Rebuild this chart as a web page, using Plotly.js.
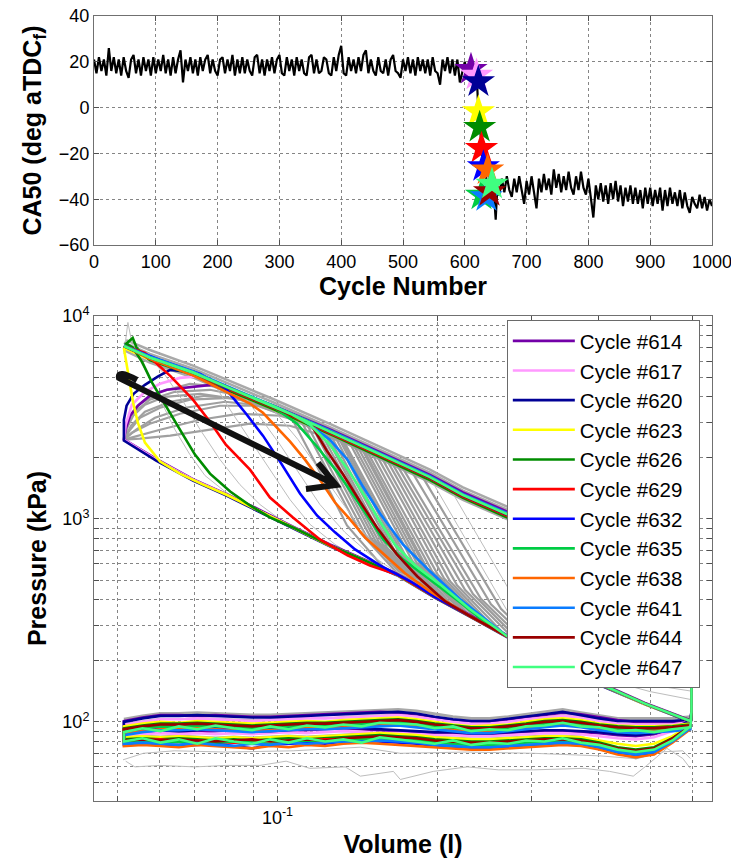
<!DOCTYPE html>
<html>
<head>
<meta charset="utf-8">
<script src="https://cdn.plot.ly/plotly-3.0.1.min.js"></script>
<style>html,body{margin:0;padding:0;background:#fff;}#chart{width:731px;height:867px;}</style>
</head>
<body>
<div id="chart"></div>
<script>
// ================= TOP PANEL DATA (CA50 vs cycle) =================
// cycles 0,4,...,604
const ca50Early = [
21,15,22,16,21,14,26,16,22,15,
21,14,22,16,13,21,23,15,21,14,
22,16,21,14,22,15,21,16,23,15,
21,14,22,15,21,25,11,21,16,22,
15,21,14,22,16,21,23,15,21,16,
14,21,22,15,21,16,23,14,21,15,
22,15,21,16,14,22,23,15,21,14,
21,16,22,15,21,23,15,14,22,16,
21,14,22,16,21,15,14,22,23,15,
21,15,16,22,21,15,14,22,16,23,
27,15,14,22,16,21,15,22,16,23,
25,15,21,16,14,22,16,15,21,14,
21,23,16,15,13,21,16,22,15,21,
14,22,16,21,15,21,14,22,16,15,
10,21,16,22,15,21,14,21,11,16,
20,15];
const earlyFirstCycle = 0, earlyCycleStep = 4;
// transition cycles
const cycleTrans = [608,610,612,614,616,618,620,621,622,623,624,625,626,627,628,629,630,631,632,634,636,638,640,642,644,646,648,650,652];
const ca50Trans  = [15,17,13,16,12,14,10,4,0,-3,-8,-11,-14,-17,-20,-24,-27,-25,-30,-28,-36,-33,-40,-35,-38,-36,-41,-49,-38];
// cycles 656,660,...,1000
const ca50Late = [
-38,-31,-37,-30,-36,-39,-31,-37,-30,-36,
-42,-32,-38,-30,-37,-44,-31,-37,-29,-36,
-31,-38,-27,-35,-29,-37,-30,-36,-28,-35,
-38,-30,-36,-28,-35,-38,-31,-40,-48,-34,
-40,-33,-41,-34,-42,-33,-40,-32,-41,-34,
-43,-35,-41,-34,-42,-35,-42,-36,-44,-35,
-42,-35,-43,-36,-42,-35,-45,-36,-43,-35,
-42,-37,-43,-36,-44,-37,-43,-46,-39,-42,
-44,-38,-44,-39,-45,-40,-43];
const lateFirstCycle = 656, lateCycleStep = 4;

// highlighted cycles (stars)
const cycleLabels = ['Cycle #614','Cycle #617','Cycle #620','Cycle #623','Cycle #626','Cycle #629','Cycle #632','Cycle #635','Cycle #638','Cycle #641','Cycle #644','Cycle #647'];
const cycleColors = ['#7300a8','#ff99ff','#000096','#ffff00','#008c00','#ff0000','#0000ff','#00cc44','#ff6600','#0a7cff','#990000','#40ff80'];
const starCycles = [610,619,622,622,624,627,630,627,637,635,640,644];
const starCA50   = [16.7,14.2,11.3,-1.8,-8.6,-17.8,-25.8,-38.2,-27.2,-38.9,-36.7,-33.4];

const cycleTicks = [0,100,200,300,400,500,600,700,800,900,1000];
const ca50Ticks = [-60,-40,-20,0,20,40];

// ================= BOTTOM PANEL DATA (P-V, volume in l, pressure in kPa) =================
const hp614 = [[0.595,102],[0.489,124],[0.402,156],[0.325,206],[0.269,268],[0.230,335],[0.198,415],[0.1675,538],[0.1446,638],[0.1254,748],[0.1069,915],[0.090,1150],[0.080,1330],[0.0694,1570],[0.0592,1975],[0.0515,2470],
 [0.0519,2784],[0.0529,3226],[0.0547,3614],[0.0576,4048],[0.0620,4330],[0.0673,4430],[0.0750,4580],[0.0850,4150],[0.0981,3620],
 [0.1254,2760],[0.1557,2140],[0.1932,1650],[0.2228,1350],[0.2692,1090],[0.402,690],[0.598,440],[0.598,112]];
const hp617 = [[0.595,101],[0.489,123],[0.402,154],[0.325,204],[0.269,265],[0.230,332],[0.198,411],[0.1675,533],[0.1446,632],[0.1254,741],[0.1069,908],[0.090,1140],[0.080,1320],[0.0694,1560],[0.0592,1960],[0.0515,2459],
 [0.0519,2913],[0.0533,3653],[0.0564,4232],[0.0602,4634],[0.0656,4955],[0.0716,5050],[0.0815,4400],
 [0.0981,3590],[0.1254,2700],[0.1557,2080],[0.1932,1605],[0.2228,1310],[0.2692,1055],[0.402,672],[0.598,432],[0.598,112]];
const hp620 = [[0.595,100],[0.489,122],[0.402,152],[0.325,202],[0.269,262],[0.230,329],[0.198,407],[0.1675,528],[0.1446,626],[0.1254,734],[0.1069,899],[0.090,1128],[0.080,1307],[0.0694,1545],[0.0592,1940],[0.0515,2435],
 [0.0515,3080],[0.0521,3614],[0.0537,4140],[0.0564,4580],[0.0596,5030],[0.0629,5430],[0.0694,5280],
 [0.0815,4390],[0.0981,3580],[0.1254,2700],[0.1557,2085],[0.1932,1610],[0.2228,1315],[0.2692,1060],[0.402,675],[0.598,435],[0.598,112]];
const hp623 = [[0.595,101],[0.489,122],[0.402,153],[0.325,203],[0.269,264],[0.230,330],[0.198,409],[0.1675,530],[0.1446,630],[0.1254,738],[0.1069,904],[0.090,1135],[0.080,1320],
 [0.0725,1477],[0.0656,1673],[0.0602,1917],[0.0564,2377],[0.0547,2979],[0.0536,3737],[0.0529,4688],[0.0519,6150],[0.0515,6962],
 [0.0576,6100],[0.0694,5150],[0.0815,4290],[0.0981,3500],[0.1254,2630],[0.1557,2030],[0.1932,1560],[0.2228,1275],[0.2692,1025],[0.402,655],[0.598,420],[0.598,110]];
const hp626 = [[0.595,101],[0.489,123],[0.402,154],[0.325,204],[0.269,265],[0.230,332],[0.198,411],[0.1675,533],[0.1446,632],[0.1254,741],[0.1069,908],[0.0968,1017],
 [0.0888,1165],[0.0815,1365],[0.0747,1673],[0.0700,2075],[0.0656,2753],[0.0616,3653],[0.0582,4688],[0.0557,5943],[0.0535,7000],[0.0520,7300],[0.0535,7800],[0.0545,6900],
 [0.0576,6060],[0.0694,5120],[0.0815,4260],[0.0981,3480],[0.1254,2620],[0.1557,2020],[0.1932,1555],[0.2228,1270],[0.2692,1020],[0.402,650],[0.598,418],[0.598,110]];
const hp629 = [[0.595,101],[0.489,123],[0.402,154],[0.325,204],[0.269,265],[0.230,332],[0.198,411],[0.1675,533],
 [0.1491,590],[0.1353,662],[0.1201,793],[0.1069,1017],[0.0968,1275],[0.0888,1750],[0.0800,2323],[0.0747,3013],[0.0694,3870],[0.0629,5070],[0.0564,6577],[0.0515,7120],
 [0.0576,6150],[0.0694,5200],[0.0815,4330],[0.0981,3540],[0.1254,2660],[0.1557,2055],[0.1932,1585],[0.2228,1290],[0.2692,1040],[0.402,662],[0.598,426],[0.598,110]];
const hp632 = [[0.595,101],[0.489,123],[0.402,154],[0.325,204],[0.269,265],[0.230,332],[0.198,411],
 [0.1773,493],[0.1557,590],[0.1398,708],[0.1282,859],[0.1186,1040],[0.1102,1335],[0.1011,1917],[0.0939,2573],[0.0873,3300],[0.0797,4427],[0.0716,5190],[0.0602,6080],[0.0515,7120],
 [0.0576,6230],[0.0694,5260],[0.0815,4380],[0.0981,3580],[0.1254,2695],[0.1557,2080],[0.1932,1600],[0.2228,1305],[0.2692,1052],[0.402,669],[0.598,430],[0.598,110]];
const hp635 = [[0.595,101],[0.489,123],[0.402,154],[0.325,204],[0.269,265],[0.2504,296],
 [0.2200,389],[0.1932,504],[0.1719,632],[0.1579,793],[0.1491,995],[0.1385,1319],[0.1293,1712],[0.1186,2272],[0.1088,2946],[0.0981,3575],[0.0815,4375],[0.0694,5250],[0.0576,6220],[0.0515,7120],
 [0.0576,6280],[0.0694,5300],[0.0815,4420],[0.0981,3610],[0.1254,2720],[0.1557,2095],[0.1932,1615],[0.2228,1318],[0.2692,1062],[0.402,676],[0.598,434],[0.598,112]];
const hp638 = [[0.595,101],[0.489,123],[0.402,154],[0.325,204],[0.269,265],[0.2297,332],
 [0.1932,440],[0.1734,540],[0.1591,662],[0.1459,811],[0.1368,995],[0.1282,1205],[0.1201,1560],[0.1126,1960],[0.1056,2403],[0.0939,3337],[0.0888,3700],[0.0815,4150],[0.0694,5100],[0.0576,6150],[0.0515,7120],
 [0.0576,6250],[0.0694,5280],[0.0815,4400],[0.0981,3595],[0.1254,2705],[0.1557,2085],[0.1932,1608],[0.2228,1312],[0.2692,1058],[0.402,672],[0.598,432],[0.598,110]];
const hp641 = [[0.595,101],[0.489,123],[0.402,154],[0.325,204],[0.2692,265],
 [0.2200,402],[0.1932,552],[0.1719,749],[0.1557,1064],[0.1446,1444],[0.1353,1960],[0.1254,2460],[0.1102,3154],[0.0981,3620],[0.0815,4440],[0.0694,5330],[0.0576,6300],[0.0515,7150],
 [0.0576,6320],[0.0694,5330],[0.0815,4440],[0.0981,3630],[0.1254,2730],[0.1557,2105],[0.1932,1625],[0.2228,1325],[0.2692,1068],[0.402,680],[0.598,436],[0.598,112]];
const hp644 = [[0.595,101],[0.489,123],[0.402,154],[0.325,204],[0.269,265],[0.2297,332],
 [0.2062,393],[0.1828,522],[0.1675,669],[0.1537,908],[0.1428,1219],[0.1328,1655],[0.1237,2171],[0.1151,2979],[0.0981,3575],[0.0815,4375],[0.0694,5250],[0.0576,6220],[0.0515,7120],
 [0.0576,6220],[0.0694,5250],[0.0815,4375],[0.0981,3575],[0.1254,2690],[0.1557,2075],[0.1932,1600],[0.2228,1305],[0.2692,1052],[0.402,669],[0.598,430],[0.598,110]];
const hp647 = [[0.595,101],[0.489,123],[0.402,154],[0.325,204],[0.2692,265],
 [0.2297,359],[0.2018,476],[0.1813,590],[0.1660,749],[0.1557,972],[0.1459,1290],[0.1356,1750],[0.1254,2323],[0.1151,2913],[0.1056,3300],[0.0981,3575],[0.0815,4375],[0.0694,5250],[0.0576,6220],[0.0515,7120],
 [0.0576,6250],[0.0694,5280],[0.0815,4400],[0.0981,3600],[0.1254,2705],[0.1557,2085],[0.1932,1608],[0.2228,1312],[0.2692,1058],[0.402,672],[0.598,432],[0.598,112]];

// gas-exchange volume grid (l) and pressures (kPa) on it
const gxV = [0.0515,0.0558,0.0603,0.0653,0.0707,0.0765,0.0828,0.0896,0.0969,0.1049,0.1135,0.1228,0.1329,0.1438,0.1556,0.1684,0.1823,0.1972,0.2134,0.2310,0.2500,0.2705,0.2927,0.3168,0.3428,0.3710,0.4015,0.4345,0.4702,0.5088,0.5508,0.5950];
const exh614 = [101,105,108,108,107,108,107,106,106,107,108,109,110,111,112,111,109,105,102,100,100,102,105,108,111,109,105,102,100,100,100,102];
const exh617 = [97,100,103,103,104,103,102,101,102,103,104,104,105,106,107,108,106,103,100,98,98,100,103,105,107,105,101,98,97,97,97,100];
const exh620 = [100,104,107,107,108,107,106,105,105,106,107,108,109,110,111,112,110,106,103,101,101,103,106,109,112,108,104,101,101,101,101,103];
const exh623 = [95,98,100,99,101,100,99,98,99,100,101,100,102,103,104,105,103,100,97,95,96,97,100,103,104,102,98,96,95,95,96,98];
const exh626 = [93,96,98,98,99,98,97,96,97,98,99,99,100,101,102,103,101,98,96,94,94,96,98,101,102,100,97,95,94,94,95,97];
const exh629 = [91,94,96,96,97,96,95,94,95,96,97,97,98,99,100,101,99,96,94,92,92,94,96,99,100,98,95,93,92,93,94,96];
const exh632 = [88,91,93,93,94,93,92,91,92,93,94,94,95,96,97,98,96,94,92,90,90,92,94,96,98,96,93,91,90,91,92,94];
const exh635 = [90,93,95,94,96,95,94,93,94,95,96,95,97,98,99,100,98,95,93,91,91,93,95,98,99,97,94,92,91,92,93,95];
const exh638 = [87,90,92,92,93,92,91,90,91,92,93,93,94,95,96,97,95,93,91,89,89,91,93,95,97,95,92,90,89,90,91,93];
const exh641 = [86,89,91,91,92,91,90,89,90,91,92,92,93,94,95,96,94,92,90,88,88,90,92,94,96,94,91,89,88,89,90,92];
const exh644 = [92,95,97,97,98,97,96,95,96,97,98,98,99,100,101,102,100,97,95,93,93,95,97,100,101,99,96,94,93,93,94,96];
const exh647 = [89,93,90,95,92,96,93,91,95,92,96,94,97,95,99,98,97,93,95,90,92,91,95,96,99,95,94,90,91,89,92,94];
const int614 = [88,89,90,90,89,90,91,90,89,90,91,92,93,92,91,90,89,88,88,87,87,88,89,90,90,89,88,86,85,87,92,100];
const int617 = [86,87,88,87,88,87,88,87,88,89,88,89,90,89,88,88,87,86,86,85,85,86,87,88,88,87,85,83,82,84,90,98];
const int620 = [90,91,91,90,91,92,91,90,90,91,92,93,94,93,92,91,90,89,89,88,88,89,90,91,91,90,89,87,86,88,93,101];
const int623 = [84,85,84,85,84,83,84,83,84,85,84,85,86,87,88,87,86,84,83,82,82,83,84,85,85,84,81,78,76,78,85,96];
const int626 = [82,83,82,83,82,81,82,81,82,83,82,83,84,85,86,85,84,82,81,80,80,81,82,83,83,82,79,75,73,75,83,95];
const int629 = [80,81,82,80,81,80,79,80,81,80,81,82,82,83,84,83,82,80,79,78,78,79,80,81,81,80,77,73,71,73,82,94];
const int632 = [77,78,77,76,77,78,76,74,77,78,79,78,80,81,80,79,78,76,75,74,74,75,76,77,78,77,74,70,68,70,80,93];
const int635 = [79,80,79,80,78,79,80,79,78,80,81,80,81,82,83,82,81,79,78,77,77,78,79,80,80,79,76,72,70,72,81,94];
const int638 = [76,77,76,75,77,76,75,74,76,75,77,76,78,79,78,77,76,75,74,73,73,74,75,76,77,76,73,69,67,69,79,92];
const int641 = [78,79,78,77,79,77,76,78,77,79,78,79,80,80,81,80,79,77,76,75,75,76,77,78,79,78,75,71,69,71,80,93];
const int644 = [81,82,81,82,81,80,81,82,80,81,82,81,83,84,85,84,83,81,80,79,79,80,81,82,82,81,78,74,72,74,83,95];
const int647 = [80,83,79,82,78,83,80,78,82,79,83,80,82,79,84,82,80,78,81,77,79,78,81,80,83,79,77,73,71,73,81,95];

// other (grey) cycles
const grayLateBurn = [
 [[0.0515,2459],[0.0524,3083],[0.0540,3375],[0.0576,3870],[0.0642,4232],[0.0747,4330],[0.0888,3955],[0.1055,3300],[0.1254,2692]],
 [[0.0515,2459],[0.0529,2753],[0.0552,3154],[0.0602,3530],[0.0685,3870],[0.0815,3955],[0.0968,3612],[0.1151,2980]],
 [[0.0515,2459],[0.0533,2662],[0.0576,2946],[0.0656,3300],[0.0780,3612],[0.0927,3612],[0.1102,3154],[0.1310,2543]],
 [[0.0515,2459],[0.0540,2543],[0.0602,2753],[0.0716,3083],[0.0850,3300],[0.1011,3226],[0.1201,2815],[0.1429,2297]],
 [[0.0515,2459],[0.0552,2487],[0.0629,2573],[0.0747,2753],[0.0888,2946],[0.1055,2880],[0.1254,2515],[0.1491,2147]],
 [[0.0515,2459],[0.0529,3154],[0.0552,3696],[0.0602,4232],[0.0685,4632],[0.0815,4428],[0.0981,3575]],
 [[0.0515,2459],[0.0522,2815],[0.0536,3226],[0.0564,3653],[0.0615,3999],[0.0716,4137],[0.0850,3870],[0.1011,3300],[0.1201,2815]],
 [[0.0515,2459],[0.0531,2880],[0.0564,3375],[0.0629,3780],[0.0731,4045],[0.0869,3870],[0.1033,3375],[0.1228,2753]],
 [[0.0515,2459],[0.0543,2753],[0.0589,3154],[0.0671,3530],[0.0797,3780],[0.0947,3612],[0.1126,3083],[0.1338,2487]]
];
const grayEarlyBurn = [
 [[0.1102,3118],[0.1228,1832],[0.1429,859],[0.1698,522]],
 [[0.1126,3048],[0.1257,1775],[0.1463,833],[0.1742,504]],
 [[0.1151,2980],[0.1285,1731],[0.1498,802],[0.1788,482]],
 [[0.1171,2913],[0.1307,1687],[0.1525,785],[0.1819,471]],
 [[0.1191,2848],[0.1330,1655],[0.1551,766],[0.1851,455]],
 [[0.1212,2800],[0.1353,1612],[0.1579,745],[0.1884,445]],
 [[0.1228,2753],[0.1373,1581],[0.1605,724],[0.1916,435]],
 [[0.1249,2692],[0.1396,1546],[0.1638,710],[0.1950,421]],
 [[0.1271,2662],[0.1422,1511],[0.1661,692],[0.1983,412]],
 [[0.1293,2602],[0.1445,1494],[0.1689,684],[0.2018,402]],
 [[0.1310,2543],[0.1466,1444],[0.1720,662],[0.2062,389]],
 [[0.1321,2515],[0.1485,1428],[0.1750,639],[0.2107,376]],
 [[0.1356,2459],[0.1524,1380],[0.1788,625],[0.2153,363]],
 [[0.1379,2403],[0.1551,1353],[0.1826,606],[0.2200,355]],
 [[0.1404,2350],[0.1578,1319],[0.1859,591],[0.2248,343]],
 [[0.1429,2297],[0.1608,1289],[0.1900,565],[0.2297,332]],
 [[0.1441,2272],[0.1619,1275],[0.1908,571],[0.2297,332]],
 [[0.1460,2246],[0.1647,1247],[0.1950,552],[0.2357,321]],
 [[0.1491,2195],[0.1683,1212],[0.1999,531],[0.2430,307]],
 [[0.1524,2123],[0.1727,1178],[0.2053,510],[0.2504,293]],
 [[0.1557,2075],[0.1765,1139],[0.2107,493],[0.2581,280]],
 [[0.1591,2028],[0.1811,1101],[0.2172,471],[0.2673,268]],
 [[0.1626,1960],[0.1859,1058],[0.2248,448],[0.2791,253]],
 [[0.1661,1917],[0.1912,1029],[0.2327,426],[0.2913,236]],
 [[0.1698,1874],[0.1965,988],[0.2408,404],[0.3041,223]],
 [[0.1055,3262],[0.1171,1939],[0.1350,929],[0.1591,565]],
 [[0.1773,1771],[0.2053,929],[0.2515,380],[0.3176,211]],
 [[0.1851,1692],[0.2142,888],[0.2626,361],[0.3316,198]]
];
const grayThin = [
 [[0.0869,1192],[0.0797,1365],[0.0731,1636],[0.0685,2075],[0.0642,2753],[0.0602,3870],[0.0572,5130],[0.0540,6655]],
 [[0.1102,878],[0.1011,995],[0.0927,1178],[0.0850,1477],[0.0780,1960],[0.0716,2753],[0.0662,3870],[0.0615,5130],[0.0576,6220]],
 [[0.1591,565],[0.1429,632],[0.1282,749],[0.1151,940],[0.1055,1247],[0.0968,1750],[0.0888,2459],[0.0815,3450],[0.0763,4580]],
 [[0.1851,493],[0.1661,552],[0.1491,669],[0.1338,859],[0.1201,1178],[0.1102,1655],[0.1011,2323],[0.0935,3083],[0.0869,3955]],
 [[0.2018,402],[0.1811,493],[0.1626,618],[0.1460,839],[0.1310,1247],[0.1191,1791],[0.1093,2459],[0.0989,3375]],
 [[0.1932,1599],[0.2224,849],[0.2707,347],[0.3388,193]],
 [[0.2107,1412],[0.2424,749],[0.2951,310],[0.3694,172]],
 [[0.0515,6500],[0.0524,9300],[0.0535,7000]],
 [[0.40,168],[0.45,152],[0.50,141],[0.55,134],[0.595,129]],
 [[0.42,170],[0.47,158],[0.52,150],[0.56,146],[0.595,142]],
 [[0.0513,65],[0.056,70],[0.064,72],[0.08,71],[0.107,72],[0.143,75],[0.17,70],[0.227,71],[0.302,70],[0.402,68],[0.465,66],[0.52,71],[0.576,72],[0.595,66]],
 [[0.0519,64],[0.054,60],[0.06,61],[0.07,60],[0.08,61],[0.0927,61],[0.1038,64],[0.115,59],[0.134,60],[0.143,54],[0.165,57],[0.17,52],[0.196,57],[0.227,60],[0.26,58],[0.302,58],[0.376,59],[0.42,57],[0.465,54],[0.493,61],[0.538,74],[0.576,66],[0.595,59]]
];
const grayExpansion = [
 [[0.0515,7400],[0.0576,6500],[0.0694,5500],[0.0815,4600],[0.0981,3760],[0.1254,2830],[0.1557,2190],[0.1932,1690],[0.2228,1380],[0.2692,1110],[0.402,705],[0.595,455]],
 [[0.0520,7600],[0.0576,6800],[0.0694,5700],[0.0815,4780],[0.0981,3900],[0.1254,2940],[0.1557,2270],[0.1932,1750],[0.2228,1430],[0.2692,1150],[0.402,730],[0.595,470]],
 [[0.0515,6800],[0.0576,5900],[0.0694,4980],[0.0815,4150],[0.0981,3400],[0.1254,2560],[0.1557,1970],[0.1932,1520],[0.2228,1240],[0.2692,1000],[0.402,635],[0.595,410]]
];
const grayExhA = [103,107,110,110,111,110,109,108,108,109,110,111,112,113,114,115,113,109,106,104,104,106,109,112,115,111,107,104,104,104,104,106];
const grayExhB = [98,101,104,103,105,104,103,102,103,104,105,104,106,107,108,109,107,104,101,99,99,101,104,106,108,106,102,99,98,98,98,101];
const grayIntA = [85,86,85,86,85,84,85,84,85,86,85,86,87,88,89,88,87,85,84,83,83,84,85,86,86,85,79,74,72,75,85,96];
const grayIntB = [78,79,78,79,77,78,79,78,77,79,80,79,80,81,82,81,80,78,77,76,76,77,78,79,79,78,74,70,66,70,82,92];

const volTicks = [0.05,0.06,0.07,0.08,0.09,0.1,0.2,0.3,0.4,0.5,0.6];
const volTickText = ['','','','','','10<sup>-1</sup>','','','','',''];
const presTicks = [50,60,70,80,90,100,200,300,400,500,600,700,800,900,1000,2000,3000,4000,5000,6000,7000,8000,9000,10000];
const presTickText = presTicks.map(v => v === 100 ? '10<sup>2</sup>' : v === 1000 ? '10<sup>3</sup>' : v === 10000 ? '10<sup>4</sup>' : '');

// ================= BUILD TRACES =================
const FONT = 'Liberation Sans, Arial, Helvetica, sans-serif';
const traces = [];

const cycAll = [], caAll = [];
ca50Early.forEach((v, i) => { cycAll.push(earlyFirstCycle + earlyCycleStep * i); caAll.push(v); });
cycleTrans.forEach((c, i) => { cycAll.push(c); caAll.push(ca50Trans[i]); });
ca50Late.forEach((v, i) => { cycAll.push(lateFirstCycle + lateCycleStep * i); caAll.push(v); });

traces.push({x: cycAll, y: caAll, xaxis: 'x', yaxis: 'y', mode: 'lines',
  line: {color: '#000', width: 2.2}, showlegend: false, hoverinfo: 'skip'});
traces.push({x: starCycles, y: starCA50, xaxis: 'x', yaxis: 'y', mode: 'markers',
  marker: {symbol: 'star', size: 25, color: cycleColors, line: {width: 0}}, showlegend: false, hoverinfo: 'skip'});

function joined(list) {
  const x = [], y = [];
  list.forEach(seg => { seg.forEach(p => { x.push(p[0]); y.push(p[1]); }); x.push(null); y.push(null); });
  return {x, y};
}
function grayTrace(list, color, width) {
  const d = joined(list);
  return {x: d.x, y: d.y, xaxis: 'x2', yaxis: 'y2', mode: 'lines', line: {color, width},
    showlegend: false, hoverinfo: 'skip', connectgaps: false};
}
function grayGx(arr, color, width) {
  return {x: gxV, y: arr, xaxis: 'x2', yaxis: 'y2', mode: 'lines', line: {color, width}, showlegend: false, hoverinfo: 'skip'};
}
traces.push(grayTrace(grayExpansion, '#a9a9a9', 2.5));
traces.push(grayTrace(grayLateBurn, '#a0a0a0', 2.2));
traces.push(grayTrace(grayEarlyBurn, '#9d9d9d', 2.2));
traces.push(grayTrace(grayThin, '#bdbdbd', 1));
traces.push(grayGx(grayExhA, '#a8a8a8', 3));
traces.push(grayGx(grayExhB, '#b0b0b0', 1.5));
traces.push(grayGx(grayIntA, '#b0b0b0', 1.5));
traces.push(grayGx(grayIntB, '#a8a8a8', 2));

const hpList = [hp614, hp617, hp620, hp623, hp626, hp629, hp632, hp635, hp638, hp641, hp644, hp647];
const exhList = [exh614, exh617, exh620, exh623, exh626, exh629, exh632, exh635, exh638, exh641, exh644, exh647];
const intList = [int614, int617, int620, int623, int626, int629, int632, int635, int638, int641, int644, int647];
hpList.forEach((hp, k) => {
  const x = [], y = [];
  hp.forEach(p => { x.push(p[0]); y.push(p[1]); });
  for (let i = gxV.length - 1; i >= 0; i--) { x.push(gxV[i]); y.push(exhList[k][i]); }
  for (let i = 0; i < gxV.length; i++) { x.push(gxV[i]); y.push(intList[k][i]); }
  traces.push({x, y, xaxis: 'x2', yaxis: 'y2', mode: 'lines', name: cycleLabels[k] + '\u00a0\u00a0',
    line: {color: cycleColors[k], width: 2.6}, hoverinfo: 'skip'});
});

// ================= LAYOUT =================
const axisStyle = {
  showline: true, mirror: 'ticks', linecolor: '#707070', linewidth: 1,
  ticks: 'inside', ticklen: 5, tickcolor: '#505050',
  showgrid: true, gridcolor: '#858585', griddash: 'dot', gridwidth: 1,
  zeroline: false, tickfont: {family: FONT, size: 18, color: '#000'}, ticklabeloverflow: 'allow'
};
const titleFont = {family: FONT, size: 25, color: '#000', weight: 'bold'};

// arrow (paper coordinates)
const arrowPath = 'M0.0696,0.5363 Q0.0372,0.5503 0.0405,0.5389 L0.3916,0.4025 M0.3625,0.4306 L0.3916,0.4025 L0.3430,0.3975';

const layout = {
  width: 731, height: 867,
  margin: {l: 94, r: 19, t: 16, b: 66},
  paper_bgcolor: '#fff', plot_bgcolor: '#fff',
  font: {family: FONT, color: '#000'},
  showlegend: true,
  xaxis: Object.assign({}, axisStyle, {anchor: 'y', range: [0, 1000], tickvals: cycleTicks,
    title: {text: 'Cycle Number', font: titleFont, standoff: 6}}),
  yaxis: Object.assign({}, axisStyle, {anchor: 'x', domain: [0.7083, 1], range: [-60, 40], tickvals: ca50Ticks,
    title: {text: 'CA50 (deg aTDC<sub>f</sub>)', font: titleFont, standoff: 10}}),
  xaxis2: Object.assign({}, axisStyle, {anchor: 'y2', type: 'log', range: [-1.3443, -0.1848],
    tickvals: volTicks, ticktext: volTickText,
    title: {text: 'Volume (l)', font: titleFont, standoff: 8}}),
  yaxis2: Object.assign({}, axisStyle, {anchor: 'x2', domain: [0, 0.6178], type: 'log', range: [1.61, 4],
    tickvals: presTicks, ticktext: presTickText,
    title: {text: 'Pressure (kPa)', font: titleFont, standoff: 8}}),
  legend: {x: 0.668, y: 0.6127, xanchor: 'left', yanchor: 'top', bgcolor: '#fff',
    bordercolor: '#6a6a6a', borderwidth: 1, font: {family: FONT, size: 20.5, color: '#000'},
    itemwidth: 62, tracegroupgap: 0},
  shapes: [{type: 'path', xref: 'paper', yref: 'paper', path: arrowPath,
    line: {color: '#111', width: 6}, layer: 'above'}],
  hovermode: false
};

Plotly.newPlot('chart', traces, layout, {staticPlot: true, displayModeBar: false});
</script>
</body>
</html>
